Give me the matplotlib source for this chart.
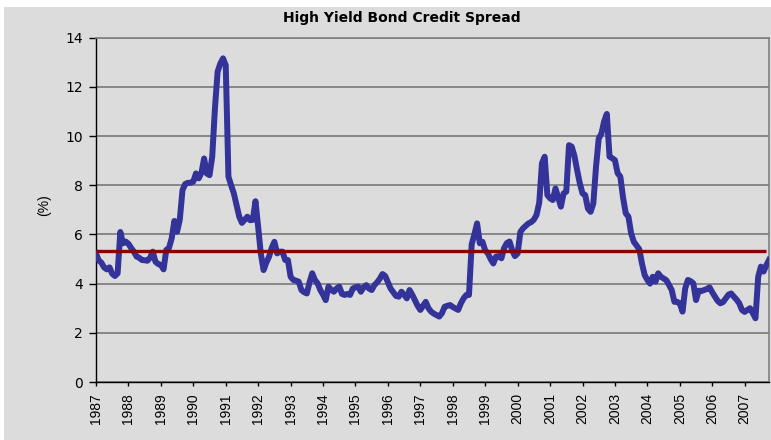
import matplotlib
matplotlib.use("Agg")
import matplotlib.pyplot as plt
from matplotlib.patches import Rectangle

# monthly spread (%), Jan 1987 .. Oct 2007
spread = [
    5.23, 4.95, 4.85, 4.66, 4.58, 4.66, 4.40, 4.31, 4.42, 6.10, 5.64, 5.71,
    5.62, 5.45, 5.30, 5.10, 5.05, 4.96, 4.95, 4.93, 5.05, 5.30, 4.89, 4.80,
    4.76, 4.58, 5.37, 5.45, 5.84, 6.55, 6.11, 6.60, 7.80, 8.05, 8.10, 8.10,
    8.15, 8.48, 8.28, 8.50, 9.09, 8.48, 8.41, 9.16, 11.12, 12.62, 12.95, 13.16,
    12.88, 8.35, 8.00, 7.67, 7.20, 6.72, 6.47, 6.60, 6.72, 6.58, 6.59, 7.35,
    6.30, 5.20, 4.55, 4.85, 5.09, 5.45, 5.70, 5.23, 5.30, 5.30, 4.96, 4.96,
    4.28, 4.15, 4.12, 4.08, 3.74, 3.65, 3.60, 4.05, 4.42, 4.15, 4.01, 3.74,
    3.55, 3.33, 3.88, 3.75, 3.67, 3.80, 3.88, 3.58, 3.54, 3.58, 3.54, 3.80,
    3.85, 3.88, 3.67, 3.85, 3.94, 3.80, 3.74, 3.94, 4.05, 4.20, 4.39, 4.31,
    4.05, 3.80, 3.65, 3.50, 3.47, 3.67, 3.55, 3.40, 3.74, 3.55, 3.33, 3.10,
    2.93, 3.10, 3.26, 3.00, 2.86, 2.78, 2.72, 2.66, 2.80, 3.06, 3.10, 3.13,
    3.05, 2.99, 2.93, 3.20, 3.40, 3.54, 3.54, 5.60, 6.00, 6.45, 5.64, 5.70,
    5.35, 5.23, 5.00, 4.82, 5.10, 5.12, 5.03, 5.45, 5.65, 5.71, 5.35, 5.12,
    5.23, 6.10, 6.25, 6.35, 6.45, 6.50, 6.60, 6.80, 7.30, 8.90, 9.16, 7.60,
    7.47, 7.40, 7.87, 7.50, 7.13, 7.67, 7.74, 9.63, 9.57, 9.20, 8.62, 8.08,
    7.67, 7.60, 7.05, 6.92, 7.26, 8.75, 9.90, 10.10, 10.60, 10.90, 9.16, 9.10,
    9.02, 8.49, 8.35, 7.50, 6.86, 6.72, 6.04, 5.70, 5.55, 5.40, 4.82, 4.35,
    4.15, 4.00, 4.28, 4.08, 4.42, 4.28, 4.21, 4.14, 3.95, 3.74, 3.26, 3.26,
    3.20, 2.86, 3.81, 4.15, 4.10, 4.01, 3.33, 3.71, 3.70, 3.74, 3.78, 3.85,
    3.65, 3.47, 3.30, 3.20, 3.25, 3.40, 3.55, 3.60, 3.47, 3.35, 3.20, 2.93,
    2.85, 2.93, 3.00, 2.80, 2.59, 4.28, 4.69, 4.49, 4.75, 4.96,
]
average = 5.33
years = [str(y) for y in range(1987, 2008)]

fig = plt.figure(figsize=(7.71, 4.40), dpi=100, facecolor="white")
# grey chart area, slightly inset from the top-left corner
fig.patches.append(Rectangle((4 / 771, 0), 1, 1 - 7 / 440, transform=fig.transFigure,
                             facecolor="#DCDCDC", edgecolor="none", zorder=-5))

ax = fig.add_axes([96 / 771, 1 - 382 / 440, 673 / 771, 344.3 / 440])
ax.set_facecolor("#DCDCDC")

months = list(range(len(spread)))
ax.plot(months, spread, color="#333399", lw=4.3, solid_joinstyle="round", zorder=3)
ax.hlines(average, 0, len(spread) - 2, color="#8B0000", lw=2.4, zorder=4)

ax.set_ylim(0, 14)
ax.set_yticks(range(0, 15, 2))
ax.set_xlim(0, len(spread) - 1)
ax.set_xticks(range(0, 12 * len(years), 12))
ax.set_xticklabels(years, rotation=90)

ax.yaxis.grid(True, color="#707070", lw=1.1)
ax.set_axisbelow(True)
for s in ["top", "right"]:
    ax.spines[s].set_color("#808080")
    ax.spines[s].set_linewidth(1.2)
for s in ["left", "bottom"]:
    ax.spines[s].set_color("black")
    ax.spines[s].set_linewidth(1.0)
ax.tick_params(axis="y", direction="out", length=5, width=1, labelsize=10, pad=4.5)
ax.tick_params(axis="x", direction="out", length=3, width=1, labelsize=10, pad=5)
for lab in ax.get_xticklabels():
    lab.set_family("Liberation Sans")
for lab in ax.get_yticklabels():
    lab.set_family("DejaVu Sans")

ax.set_ylabel("(%)", fontsize=10, family="Liberation Sans")
ax.yaxis.set_label_coords(-45 / 673, 177 / 344.3)
fig.text(402 / 771, 1 - 18 / 440, "High Yield Bond Credit Spread", ha="center", va="center",
         fontsize=10, fontweight="bold", family="DejaVu Sans")

fig.savefig("out.png", dpi=100, facecolor=fig.get_facecolor())
